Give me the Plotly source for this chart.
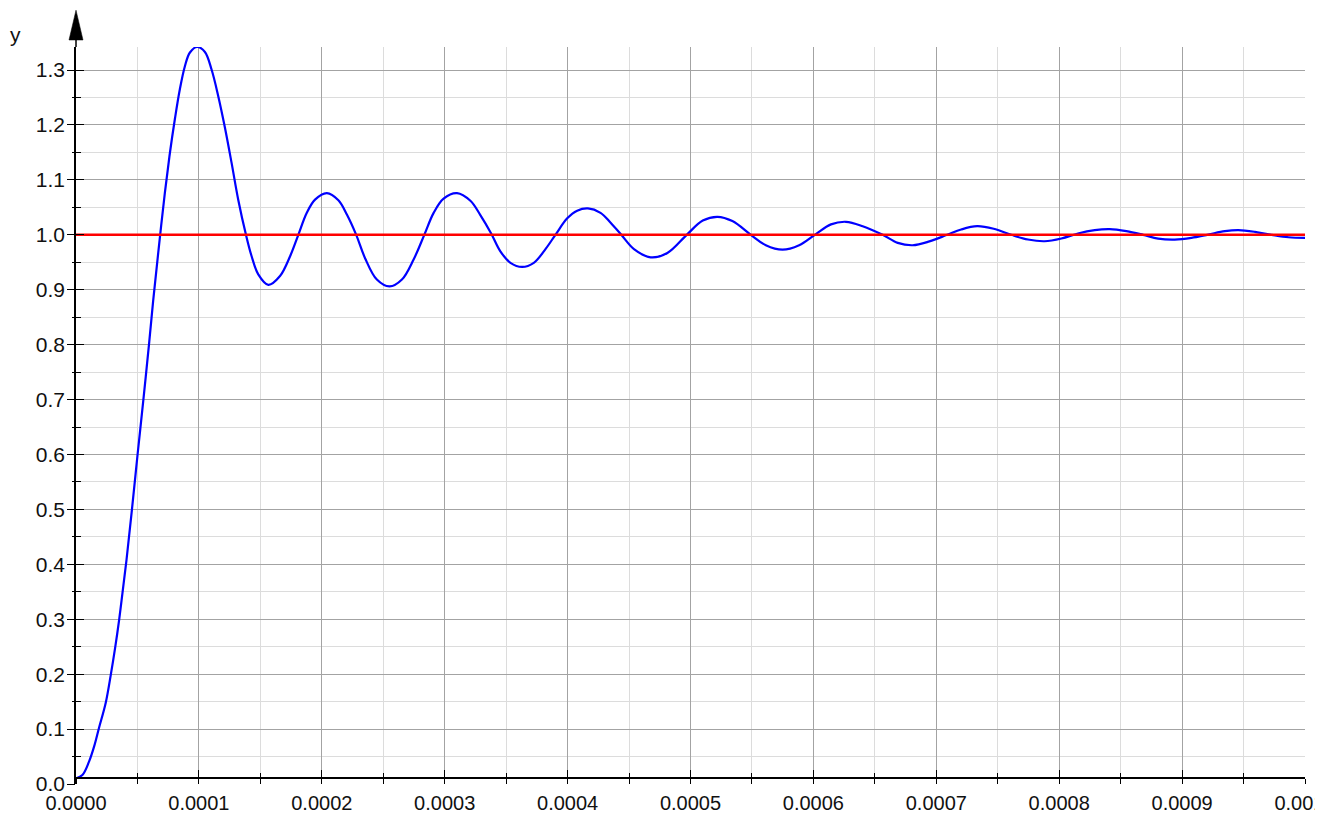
import plotly.graph_objects as go

# ---- data ----
t_vals = [0.0, 0.0000052, 0.0000106, 0.0000147, 0.0000187, 0.0000242, 0.0000283, 0.0000318,
          0.0000351, 0.0000378, 0.0000411, 0.0000453, 0.0000501, 0.0000547, 0.0000596,
          0.0000628, 0.0000669, 0.0000723, 0.0000764, 0.0000804, 0.0000845, 0.0000886,
          0.0000927, 0.0000986, 0.0001049, 0.0001103, 0.0001157, 0.0001212, 0.0001266,
          0.0001320, 0.0001383, 0.0001429, 0.0001483, 0.0001565, 0.0001660, 0.0001742,
          0.0001809, 0.0001878, 0.0001945, 0.0002041, 0.0002135, 0.0002204, 0.0002280,
          0.0002353, 0.0002448, 0.0002551, 0.0002652, 0.0002747, 0.0002834, 0.0002910,
          0.0002991, 0.0003100, 0.0003209, 0.0003290, 0.0003377, 0.0003453, 0.0003535,
          0.0003630, 0.0003725, 0.0003820, 0.0003901, 0.0003997, 0.0004078, 0.0004165,
          0.0004268, 0.0004350, 0.0004437, 0.0004540, 0.0004676, 0.0004812, 0.0004969,
          0.0005100, 0.0005219, 0.0005341, 0.0005491, 0.0005613, 0.0005749, 0.0005884,
          0.0006012, 0.0006143, 0.0006265, 0.0006401, 0.0006564, 0.0006686, 0.0006808,
          0.0006944, 0.0007088, 0.0007202, 0.0007333, 0.0007467, 0.0007610, 0.0007746,
          0.0007881, 0.0008018, 0.0008153, 0.0008289, 0.0008411, 0.0008547, 0.0008683,
          0.0008805, 0.0008940, 0.0009076, 0.0009213, 0.0009348, 0.0009457, 0.0009592,
          0.0009730, 0.0009865, 0.0010000]
y_vals = [0.0104, 0.0164, 0.0407, 0.068, 0.1020, 0.148, 0.1987, 0.2473,
          0.299, 0.3475, 0.408, 0.495, 0.600, 0.697, 0.805,
          0.880, 0.967, 1.0765, 1.149, 1.210, 1.265, 1.307,
          1.332, 1.342, 1.333, 1.301, 1.253, 1.195, 1.131,
          1.064, 1.000, 0.961, 0.928, 0.909, 0.925, 0.961,
          1.000, 1.040, 1.064, 1.0760, 1.063, 1.037, 1.000,
          0.957, 0.9185, 0.906, 0.9185, 0.955, 1.000, 1.040,
          1.066, 1.0760, 1.062, 1.036, 1.003, 0.970, 0.949,
          0.9416, 0.949, 0.974, 1.000, 1.030, 1.044, 1.048,
          1.040, 1.022, 1.000, 0.974, 0.959, 0.967, 1.000,
          1.026, 1.0328, 1.025, 1.000, 0.981, 0.973, 0.981,
          1.000, 1.019, 1.0237, 1.0157, 1.000, 0.9854, 0.981,
          0.988, 1.000, 1.0097, 1.0157, 1.011, 1.000, 0.9914,
          0.9883, 0.9932, 1.0024, 1.0085, 1.0103, 1.0066, 1.000,
          0.9932, 0.9914, 0.9945, 1.0005, 1.0066, 1.0085, 1.0055,
          1.000, 0.9956, 0.9945]

ref_t = [0.0, 0.001]
ref_y = [1.0, 1.0]

x_ticks = [0.0000, 0.0001, 0.0002, 0.0003, 0.0004, 0.0005, 0.0006, 0.0007, 0.0008, 0.0009, 0.0010]
y_ticks = [0.0, 0.1, 0.2, 0.3, 0.4, 0.5, 0.6, 0.7, 0.8, 0.9, 1.0, 1.1, 1.2, 1.3]

X_RANGE = [0, 0.001]
Y_RANGE = [0, 1.342]
X_AXIS_AT = 0.0104  # y value where the horizontal axis crosses

FONT = "Liberation Sans, Arial, Helvetica, sans-serif"
MAJ_GRID = "#a3a3a3"
MIN_GRID = "#dcdcdc"

fig = go.Figure()
fig.add_trace(go.Scatter(x=t_vals, y=y_vals, mode="lines", cliponaxis=False,
                         line=dict(color="#0000ff", width=2.2, shape="spline", smoothing=1.0),
                         xaxis="x", yaxis="y", showlegend=False, hoverinfo="x+y"))
fig.add_trace(go.Scatter(x=ref_t, y=ref_y, mode="lines",
                         line=dict(color="#ff0000", width=2.6),
                         xaxis="x2", yaxis="y2", showlegend=False, hoverinfo="x+y"))

x_pos = X_AXIS_AT / (Y_RANGE[1] - Y_RANGE[0])

common_x = dict(range=X_RANGE, tickvals=x_ticks, tickformat=".4f", automargin=False,
                tickfont=dict(family=FONT, size=20, color="#111"),
                tickcolor="black", tickwidth=1.3, zeroline=False)
common_y = dict(range=Y_RANGE, tickvals=y_ticks, tickformat=".1f", automargin=False,
                tickfont=dict(family=FONT, size=21, color="#111"),
                tickcolor="black", tickwidth=1.3, zeroline=False)

fig.update_layout(
    width=1315, height=806,
    margin=dict(l=68, r=18, t=39, b=30, autoexpand=False),
    paper_bgcolor="white", plot_bgcolor="white",
    xaxis=dict(**common_x, anchor="free", position=x_pos,
               showline=True, linecolor="black", linewidth=1.5,
               ticks="inside", ticklen=8, ticklabelstandoff=7,
               ticklabeloverflow="allow",
               showgrid=True, gridcolor=MAJ_GRID, gridwidth=1,
               minor=dict(dtick=0.00005, tick0=0, ticks="inside", ticklen=5,
                          tickcolor="black", tickwidth=1.3,
                          showgrid=True, gridcolor=MIN_GRID, gridwidth=1)),
    yaxis=dict(**common_y, anchor="x",
               showline=True, linecolor="black", linewidth=1.5,
               ticks="inside", ticklen=8, ticklabelstandoff=5,
               showgrid=True, gridcolor=MAJ_GRID, gridwidth=1,
               minor=dict(dtick=0.05, tick0=0, ticks="inside", ticklen=5,
                          tickcolor="black", tickwidth=1.3,
                          showgrid=True, gridcolor=MIN_GRID, gridwidth=1)),
    xaxis2=dict(**common_x, overlaying="x", matches="x", anchor="free", position=x_pos,
                showline=False, showticklabels=False, showgrid=False,
                ticks="outside", ticklen=5,
                minor=dict(dtick=0.00005, tick0=0, ticks="outside", ticklen=5,
                           tickcolor="black", tickwidth=1.3, showgrid=False)),
    yaxis2=dict(**common_y, overlaying="y", matches="y", anchor="x",
                showline=False, showticklabels=False, showgrid=False,
                ticks="outside", ticklen=8,
                minor=dict(dtick=0.05, tick0=0, ticks="outside", ticklen=3,
                           tickcolor="black", tickwidth=1.3, showgrid=False)),
)

# arrow on top of the vertical axis
fig.add_shape(type="line", xref="paper", yref="paper", x0=0, x1=0, y0=1.0, y1=1.012,
              line=dict(color="black", width=1.5))
fig.add_shape(type="path", xref="paper", yref="paper",
              path="M -0.0057 1.0095 L 0.0057 1.0095 L 0 1.050 Z",
              fillcolor="black", line=dict(color="black", width=0.5))

fig.add_annotation(text="y", xref="paper", yref="paper", x=-0.0496, y=1.0163,
                   xanchor="center", yanchor="middle", showarrow=False,
                   font=dict(family=FONT, size=21, color="#111"))

fig.write_html("out.html")
